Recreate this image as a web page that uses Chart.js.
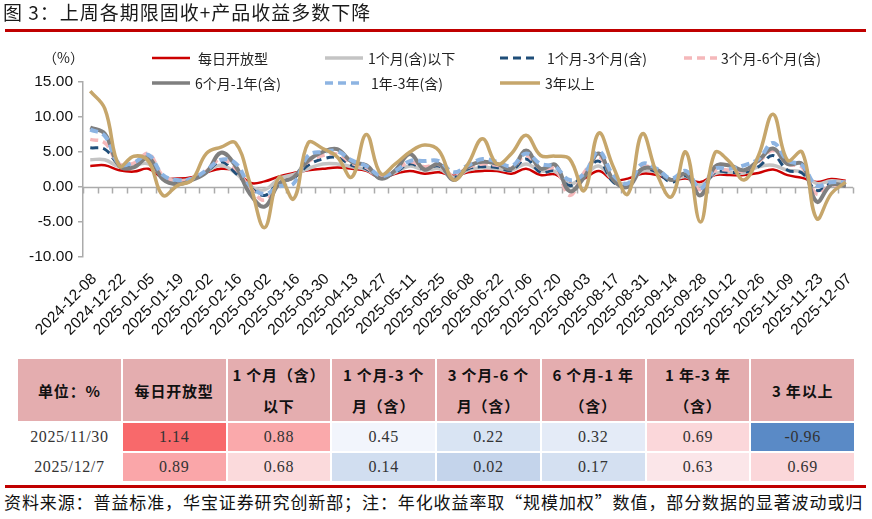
<!DOCTYPE html>
<html><head><meta charset="utf-8">
<script src="https://cdn.jsdelivr.net/npm/chart.js@4.4.1/dist/chart.umd.min.js"></script>
<style>
body{margin:0;background:#fff;}
#wrap{position:relative;width:872px;height:519px;overflow:hidden;font-family:"Noto Sans CJK SC",sans-serif;background:#fff;}
#title{position:absolute;left:3px;top:0px;font-size:19px;line-height:24px;color:#1a1a1a;letter-spacing:1px;white-space:nowrap;}
.redline{position:absolute;left:5px;width:861px;height:3px;background:#C00000;}
#chartBox{position:absolute;left:0;top:0;width:872px;height:350px;}
#unit{position:absolute;left:43px;top:48px;font-size:14px;line-height:18px;color:#222;}
.lg{position:absolute;height:16px;font-size:14px;line-height:16px;color:#222;white-space:nowrap;}
.lg svg{position:absolute;left:0;top:3px;}
.lg span{position:absolute;top:0;}
#tbl{position:absolute;left:16px;top:357px;border-collapse:collapse;table-layout:fixed;}
#tbl td{border:2px solid #fff;text-align:center;padding:0;color:#222;}
#tbl tr.h td{background:#E4ADAF;height:59px;font-weight:bold;font-size:15px;line-height:31px;letter-spacing:0.8px;color:#111;}
#tbl tr.d td{height:28px;font-family:"Liberation Serif",serif;font-size:16px;letter-spacing:0.6px;color:#333;}
#src{position:absolute;left:4px;top:490px;font-size:17px;line-height:24px;letter-spacing:0.9px;white-space:nowrap;color:#111;}
</style>
</head><body>
<div id="wrap">
  <div id="chartBox"><canvas id="c" width="872" height="350"></canvas></div>
  <div id="title">图 3：上周各期限固收+产品收益多数下降</div>
  <div class="redline" style="top:29px"></div>
  <div id="unit">（%）</div>
  <div id="legend"></div>
  <table id="tbl"></table>
  <div class="redline" style="top:485px"></div>
  <div id="src">资料来源：普益标准，华宝证券研究创新部；注：年化收益率取“规模加权”数值，部分数据的显著波动或归</div>
</div>
<script>
// ---------- data ----------
const categories = [
 '2024-12-08','2024-12-15','2024-12-22','2024-12-29','2025-01-05','2025-01-12','2025-01-19','2025-01-26',
 '2025-02-02','2025-02-09','2025-02-16','2025-02-23','2025-03-02','2025-03-09','2025-03-16','2025-03-23',
 '2025-03-30','2025-04-06','2025-04-13','2025-04-20','2025-04-27','2025-05-04','2025-05-11','2025-05-18',
 '2025-05-25','2025-06-01','2025-06-08','2025-06-15','2025-06-22','2025-06-29','2025-07-06','2025-07-13',
 '2025-07-20','2025-07-27','2025-08-03','2025-08-10','2025-08-17','2025-08-24','2025-08-31','2025-09-07',
 '2025-09-14','2025-09-21','2025-09-28','2025-10-05','2025-10-12','2025-10-19','2025-10-26','2025-11-02',
 '2025-11-09','2025-11-16','2025-11-23','2025-11-30','2025-12-07'];

const seriesNames = ['每日开放型','1个月(含)以下','1个月-3个月(含)','3个月-6个月(含)','6个月-1年(含)','1年-3年(含)','3年以上'];

const dailyOpen   = [3.0,3.1,2.4,2.2,2.6,1.3,1.2,1.4,2.1,2.6,2.3,0.6,0.8,1.5,2.0,2.4,2.6,2.8,2.6,2.3,1.3,1.9,2.3,1.9,2.1,1.6,2.1,2.3,2.3,1.9,2.6,1.7,1.8,0.5,1.2,2.3,1.0,1.2,1.9,1.7,1.0,1.2,0.7,1.7,1.7,1.7,2.0,2.5,1.7,1.3,0.7,1.14,0.89];
const upTo1M      = [3.9,3.9,2.9,3.1,3.3,1.5,0.9,1.2,2.2,3.1,2.0,0.1,-0.4,1.2,1.8,2.6,3.3,3.3,2.9,2.5,1.4,2.1,3.0,2.4,2.6,1.4,2.4,2.8,2.6,2.4,3.3,2.3,2.2,0.4,1.6,3.0,1.0,0.5,2.3,2.1,1.0,1.5,0.2,1.9,2.1,2.0,2.9,3.1,2.4,2.1,0.5,0.88,0.68];
const m1to3       = [5.6,5.4,3.2,3.0,4.0,1.4,0.7,1.1,2.2,3.6,2.0,0.0,-1.2,0.6,1.3,3.1,4.0,4.2,3.1,2.6,1.3,2.1,3.3,2.6,3.0,1.4,2.6,2.9,2.8,2.4,4.0,2.1,2.3,0.2,1.9,3.7,0.7,0.2,2.6,2.1,0.7,1.6,-0.5,2.1,2.1,2.1,2.9,4.5,2.4,2.0,-0.5,0.45,0.14];
const m3to6       = [6.8,6.3,3.3,3.4,4.8,1.6,0.8,1.2,2.3,4.0,2.6,-0.1,-1.9,0.5,1.4,3.6,4.5,4.7,3.4,2.8,1.5,2.3,3.6,2.9,3.2,1.6,2.8,3.3,3.1,2.7,4.5,2.6,2.6,-1.2,2.1,4.3,1.2,0.3,2.9,2.4,1.0,1.8,-0.4,2.3,2.4,2.3,3.6,5.2,3.3,2.8,-1.0,0.22,0.02];
const m6to1y      = [8.5,7.6,3.0,2.8,4.2,1.1,0.4,1.0,2.1,4.9,3.0,-1.0,-2.8,0.5,1.4,3.8,5.0,5.4,3.6,3.1,1.2,2.4,4.7,2.5,3.3,1.0,2.9,3.6,3.3,2.6,5.2,2.6,3.2,-0.6,1.4,4.8,1.0,0.0,2.6,2.5,1.0,1.9,-1.2,2.9,3.1,2.4,3.8,5.5,3.3,3.3,-2.1,0.32,0.17];
const y1to3       = [8.2,7.3,3.3,3.5,4.6,1.7,1.0,1.2,2.4,3.9,3.4,0.2,-1.0,0.1,0.5,4.5,5.0,5.1,3.8,3.0,1.6,2.3,3.7,3.7,3.7,2.1,3.1,4.0,3.6,3.0,4.8,3.3,2.9,1.0,1.9,5.1,1.7,0.5,3.3,2.6,1.2,2.3,-0.2,2.6,2.6,3.1,4.0,6.3,3.8,3.1,0.2,0.69,0.63];
const over3y      = [13.7,11.2,3.0,4.4,3.7,-1.2,0.2,1.0,4.8,5.7,6.3,0.5,-5.8,1.4,-1.7,6.3,5.5,4.3,1.4,7.5,1.9,3.3,5.0,6.0,5.2,1.0,3.3,6.9,3.3,4.8,7.4,4.5,4.4,4.0,-0.5,7.7,2.9,-1.0,7.6,1.9,-1.4,5.0,-5.0,4.9,3.6,1.0,4.5,10.4,3.8,5.0,-4.5,-0.96,0.69];

const yTicks = [-10, -5, 0, 5, 10, 15];
const tableDates = ['2025/11/30', '2025/12/7'];
const tableHeaders = ['单位：%','每日开放型','1 个月（含）<br>以下','1 个月-3 个<br>月（含）','3 个月-6 个<br>月（含）','6 个月-1 年<br>（含）','1 年-3 年<br>（含）','3 年以上'];

// ---------- styles ----------
const allSeries = [dailyOpen, upTo1M, m1to3, m3to6, m6to1y, y1to3, over3y];
const styles = [
  {color:'#CC0000', width:2.5, dash:[]},
  {color:'#C4C4C4', width:3.5, dash:[]},
  {color:'#1F4E79', width:3,   dash:[8,5]},
  {color:'#F5B8BA', width:3.5, dash:[8,5]},
  {color:'#7F7F7F', width:4,   dash:[]},
  {color:'#8DB4E2', width:4,   dash:[8,5]},
  {color:'#C6A66B', width:3.5, dash:[]}
];
const legendPos = [
  {x:152, y:50, w:38, tx:198},
  {x:325, y:50, w:38, tx:368},
  {x:500, y:50, w:36, tx:547},
  {x:684, y:50, w:33, tx:721},
  {x:152, y:75, w:38, tx:195},
  {x:325, y:75, w:36, tx:371},
  {x:500, y:75, w:40, tx:545}
];

// legend (HTML)
const lgRoot = document.getElementById('legend');
seriesNames.forEach((n, i) => {
  const p = legendPos[i], s = styles[i];
  const d = document.createElement('div');
  d.className = 'lg';
  d.style.left = p.x + 'px'; d.style.top = p.y + 'px'; d.style.width = '200px';
  d.innerHTML = `<svg width="${p.w}" height="10"><line x1="0" y1="5" x2="${p.w}" y2="5" stroke="${s.color}" stroke-width="${Math.min(s.width,3.5)}" ${s.dash.length?`stroke-dasharray="${s.dash.join(',')}"`:''}/></svg><span style="left:${p.tx-p.x}px">${n}</span>`;
  lgRoot.appendChild(d);
});

// zero-line axis with category-boundary ticks
const zeroAxis = {
  id: 'zeroAxis',
  beforeDatasetsDraw(chart) {
    const {ctx, chartArea: a, scales: {x, y}} = chart;
    const y0 = Math.round(y.getPixelForValue(0)) + 0.5;
    ctx.save();
    ctx.strokeStyle = '#ABABAB';
    ctx.lineWidth = 1.5;
    ctx.beginPath();
    ctx.moveTo(a.left, y0); ctx.lineTo(a.right, y0);
    for (let i = 0; i <= categories.length; i++) {
      const px = Math.round(x.getPixelForValue(i - 0.5)) + 0.5;
      ctx.moveTo(px, y0); ctx.lineTo(px, y0 + 6);
    }
    ctx.stroke();
    ctx.restore();
  }
};

new Chart(document.getElementById('c'), {
  type: 'line',
  data: {
    labels: categories,
    datasets: allSeries.map((d, i) => ({
      label: seriesNames[i],
      data: d,
      borderColor: styles[i].color,
      borderWidth: styles[i].width,
      borderDash: styles[i].dash,
      pointRadius: 0,
      tension: 0.4,
      fill: false,
      order: allSeries.length - i
    }))
  },
  options: {
    responsive: false,
    animation: false,
    devicePixelRatio: 1,
    layout: {padding: {top: 82, right: 17, left: 0, bottom: 0}},
    plugins: {legend: {display: false}, tooltip: {enabled: false}},
    scales: {
      x: {
        type: 'category',
        offset: true,
        grid: {display: false, drawTicks: false},
        border: {display: false},
        ticks: {
          autoSkip: false, maxRotation: 45, minRotation: 45, padding: 13, labelOffset: 4,
          color: '#111', font: {family: '"Liberation Sans", Arial, sans-serif', size: 15.5},
          callback: (v, i) => (i % 2 === 0 ? categories[i] : '')
        },
        afterFit: s => { s.height = 93; }
      },
      y: {
        min: -10, max: 15,
        afterBuildTicks: s => { s.ticks = yTicks.map(v => ({value: v})); },
        ticks: {
          color: '#111', padding: 5,
          font: {family: '"Liberation Sans", Arial, sans-serif', size: 15.5},
          callback: v => Number(v).toFixed(2)
        },
        grid: {drawOnChartArea: false, drawTicks: true, tickLength: 5, color: '#ABABAB', lineWidth: 1.5},
        border: {color: '#ABABAB', width: 1.5},
        afterFit: s => { s.width = 83; }
      }
    }
  },
  plugins: [zeroAxis]
});

// ---------- table ----------
const rowsVals = [51, 52].map(idx => allSeries.map(s => s[idx]));
const flat = rowsVals.flat().slice().sort((a, b) => a - b);
const vMin = flat[0], vMax = flat[flat.length - 1];
const vMid = (flat[flat.length / 2 - 1] + flat[flat.length / 2]) / 2;
function cellColor(v) {
  const lo = [90,138,198], mi = [252,252,255], hi = [248,105,107];
  let a, b, t;
  if (v <= vMid) { a = lo; b = mi; t = (v - vMin) / (vMid - vMin); }
  else { a = mi; b = hi; t = (v - vMid) / (vMax - vMid); }
  const c = a.map((x, k) => Math.round(x + (b[k] - x) * t));
  return `rgb(${c.join(',')})`;
}
const tbl = document.getElementById('tbl');
let html = '<colgroup>' + tableHeaders.map(() => '<col style="width:104.75px">').join('') + '</colgroup>';
html += '<tr class="h">' + tableHeaders.map(h => `<td>${h}</td>`).join('') + '</tr>';
rowsVals.forEach((r, ri) => {
  html += `<tr class="d"><td>${tableDates[ri]}</td>` + r.map(v => `<td style="background:${cellColor(v)}">${v.toFixed(2)}</td>`).join('') + '</tr>';
});
tbl.innerHTML = html;
</script>
</body></html>
